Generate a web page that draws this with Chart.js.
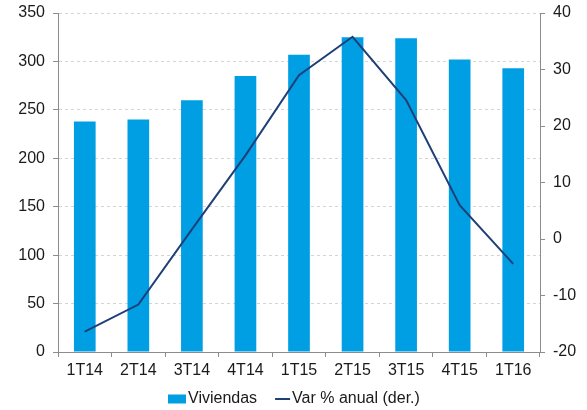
<!DOCTYPE html>
<html>
<head>
<meta charset="utf-8">
<script src="https://cdn.jsdelivr.net/npm/chart.js@4"></script>
<style>
  html, body { margin: 0; padding: 0; background: #ffffff; }
  #wrap { width: 587px; height: 410px; position: relative; }
</style>
</head>
<body>
<div id="wrap"><canvas id="c" width="587" height="410"></canvas></div>
<script>
// Quarterly housing data
const quarters = ['1T14', '2T14', '3T14', '4T14', '1T15', '2T15', '3T15', '4T15', '1T16'];
const viviendas = [238, 240, 260, 285, 307, 325, 324, 302, 293];
const varAnual = [-16.4, -11.6, 1.7, 14.8, 29.0, 35.8, 24.6, 6.0, -4.4];
const leftTicks = [0, 50, 100, 150, 200, 250, 300, 350];
const rightTicks = [-20, -10, 0, 10, 20, 30, 40];
const seriesNames = ['Viviendas', 'Var % anual (der.)'];

const BAR_COLOR = '#009fe3';
const LINE_COLOR = '#1f3f78';
const AXIS_COLOR = '#8c8c8c';
const GRID_COLOR = '#d4d4d4';
const TEXT_COLOR = '#1a1a1a';
const FONT = { family: 'Liberation Sans, Arial, sans-serif', size: 16 };

// Legend drawn under the axis: coloured box / line followed by the series name
const bottomLegend = {
  id: 'bottomLegend',
  afterDraw(chart) {
    const ctx = chart.ctx;
    ctx.save();
    ctx.font = FONT.size + 'px ' + FONT.family;
    ctx.textBaseline = 'middle';
    ctx.fillStyle = TEXT_COLOR;
    const y = 399;
    const w0 = ctx.measureText(seriesNames[0]).width;
    const w1 = ctx.measureText(seriesNames[1]).width;
    const total = 18 + 2 + w0 + 18 + 15 + 2 + w1;
    let x = Math.round((chart.width - total) / 2);
    ctx.fillStyle = BAR_COLOR;
    ctx.fillRect(x, y - 4.5, 18, 9);
    x += 20;
    ctx.fillStyle = TEXT_COLOR;
    ctx.fillText(seriesNames[0], x, y);
    x += w0 + 18;
    ctx.strokeStyle = LINE_COLOR;
    ctx.lineWidth = 2;
    ctx.beginPath();
    ctx.moveTo(x, y);
    ctx.lineTo(x + 15, y);
    ctx.stroke();
    x += 17;
    ctx.fillText(seriesNames[1], x, y);
    ctx.restore();
  }
};

// Fixed axis box sizes so the plot area sits at the same place every time
function fitVertical(width) {
  return function (s) {
    s.width = width;
    s.paddingTop = 0;
    s.paddingBottom = 0;
  };
}

new Chart(document.getElementById('c'), {
  data: {
    labels: quarters,
    datasets: [
      {
        type: 'line',
        label: seriesNames[1],
        data: varAnual,
        yAxisID: 'y1',
        borderColor: LINE_COLOR,
        borderWidth: 2,
        pointRadius: 0,
        tension: 0,
        order: 0
      },
      {
        type: 'bar',
        label: seriesNames[0],
        data: viviendas,
        yAxisID: 'y',
        backgroundColor: BAR_COLOR,
        barPercentage: 0.405,
        categoryPercentage: 1.0,
        order: 1
      }
    ]
  },
  options: {
    responsive: false,
    animation: false,
    devicePixelRatio: 1,
    layout: { padding: { top: 13, left: 0, right: 0, bottom: 0 } },
    plugins: {
      legend: { display: false },
      tooltip: { enabled: false }
    },
    scales: {
      x: {
        offset: true,
        afterFit(s) { s.height = 58; s.paddingLeft = 0; s.paddingRight = 0; },
        grid: {
          offset: true,
          drawOnChartArea: false,
          drawTicks: true,
          tickLength: 5,
          tickColor: AXIS_COLOR
        },
        border: { display: true, color: AXIS_COLOR, width: 1 },
        ticks: { color: TEXT_COLOR, font: FONT, padding: 4, maxRotation: 0 }
      },
      y: {
        position: 'left',
        min: 0,
        max: 350,
        afterFit: fitVertical(58),
        afterBuildTicks(s) { s.ticks = leftTicks.map(v => ({ value: v })); },
        grid: {
          color: GRID_COLOR,
          tickColor: AXIS_COLOR,
          tickLength: 5,
          drawTicks: true
        },
        border: { display: true, color: AXIS_COLOR, width: 1, dash: [3, 3] },
        ticks: { color: TEXT_COLOR, font: FONT, padding: 8 }
      },
      y1: {
        position: 'right',
        min: -20,
        max: 40,
        afterFit: fitVertical(47),
        afterBuildTicks(s) { s.ticks = rightTicks.map(v => ({ value: v })); },
        grid: {
          drawOnChartArea: false,
          tickColor: AXIS_COLOR,
          tickLength: 5,
          drawTicks: true
        },
        border: { display: true, color: AXIS_COLOR, width: 1 },
        ticks: { color: TEXT_COLOR, font: FONT, padding: 8 }
      }
    }
  },
  plugins: [bottomLegend]
});
</script>
</body>
</html>
